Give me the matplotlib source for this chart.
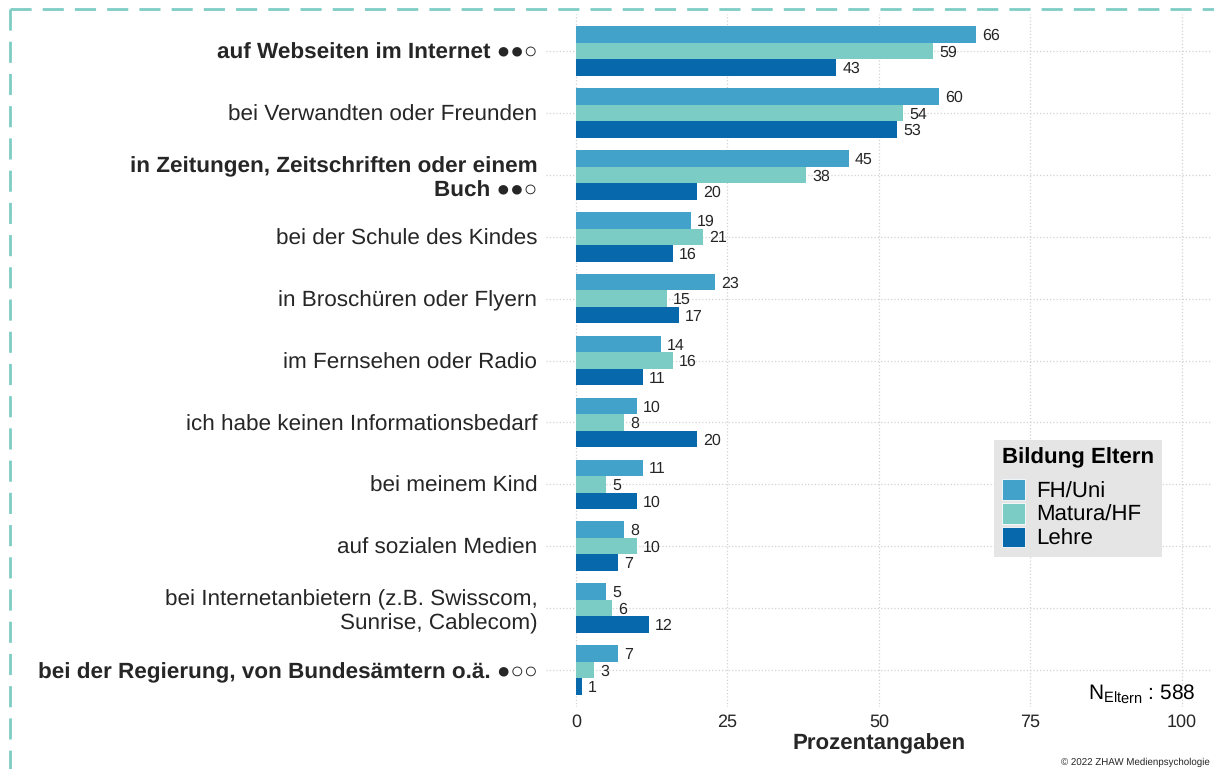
import matplotlib
matplotlib.use("Agg")
import matplotlib.pyplot as plt
from matplotlib.patches import Patch
from matplotlib.lines import Line2D
import numpy as np

plt.rcParams['font.family'] = ['Liberation Sans', 'DejaVu Sans']
plt.rcParams['mathtext.fontset'] = 'custom'
plt.rcParams['mathtext.rm'] = 'Liberation Sans'
plt.rcParams['text.hinting'] = 'no_hinting'

# Kategorien (von oben nach unten)
kategorien = [
    "auf Webseiten im Internet ●●○",
    "bei Verwandten oder Freunden",
    "in Zeitungen, Zeitschriften oder einem\nBuch ●●○",
    "bei der Schule des Kindes",
    "in Broschüren oder Flyern",
    "im Fernsehen oder Radio",
    "ich habe keinen Informationsbedarf",
    "bei meinem Kind",
    "auf sozialen Medien",
    "bei Internetanbietern (z.B. Swisscom,\nSunrise, Cablecom)",
    "bei der Regierung, von Bundesämtern o.ä. ●○○",
]
fett = [True, False, True, False, False, False, False, False, False, False, True]

gruppen = ["FH/Uni", "Matura/HF", "Lehre"]
fh_uni = [66, 60, 45, 19, 23, 14, 10, 11, 8, 5, 7]
matura_hf = [59, 54, 38, 21, 15, 16, 8, 5, 10, 6, 3]
lehre = [43, 53, 20, 16, 17, 11, 20, 10, 7, 12, 1]
farben = ["#43A2CA", "#7BCCC4", "#0868AC"]

x_ticks = [0, 25, 50, 75, 100]
n_eltern = 588

textfarbe = "#262626"

fig = plt.figure(figsize=(12.14, 7.69), dpi=100)
ax = fig.add_axes([0.4495, 0.0806, 0.5489, 0.9012])

y = np.arange(len(kategorien))
hoehe = 0.8 / 3
werte = [fh_uni, matura_hf, lehre]
for k, (serie, farbe) in enumerate(zip(werte, farben)):
    pos = y + (k - 1) * hoehe
    ax.barh(pos, serie, height=hoehe, color=farbe, linewidth=0, zorder=2)
    for p, v in zip(pos, serie):
        ax.text(v + 1.0, p + 0.025, str(v), va="center", ha="left",
                fontsize=11.5, color=textfarbe, zorder=3)

ax.set_xlim(-5, 105)
ax.set_ylim(len(kategorien) - 1 + 0.6, -0.6)

ax.set_xticks(x_ticks)
ax.set_xticklabels([str(t) for t in x_ticks])
ax.set_yticks(y)
ax.set_yticklabels(kategorien)
for lbl, b in zip(ax.get_yticklabels(), fett):
    lbl.set_fontweight("bold" if b else "normal")
    lbl.set_fontsize(16.2)
    lbl.set_color(textfarbe)

ax.tick_params(axis="x", length=0, pad=5, labelsize=13, labelcolor=textfarbe)
ax.tick_params(axis="y", length=0, pad=6)

ax.grid(True, which="major", linestyle=":", color="#D2D2D2", linewidth=0.9, zorder=0)
ax.set_axisbelow(True)
for s in ax.spines.values():
    s.set_visible(False)

ax.set_xlabel("Prozentangaben", fontsize=16, fontweight="bold", color=textfarbe, labelpad=2)

# Stichprobengrösse
ax.text(102.2, 10.38, r"N$_{\mathrm{Eltern}}$ : " + str(n_eltern), ha="right", va="center",
        fontsize=15, color="black")

# Legende
handles = [Patch(facecolor=f, edgecolor="white", linewidth=0.6) for f in farben]
leg = ax.legend(handles, gruppen, title="Bildung Eltern", loc="upper left",
                bbox_to_anchor=(994 / 1214, 1 - 440 / 769), bbox_transform=fig.transFigure,
                fontsize=16, title_fontproperties={"weight": "bold", "size": 16},
                frameon=True, facecolor="#E5E5E5", edgecolor="none", framealpha=1,
                fancybox=False, handlelength=1.05, handleheight=1.05, labelspacing=0.05,
                handletextpad=0.5, borderpad=0.35, borderaxespad=0)
leg._legend_box.align = "left"
leg._legend_box.sep = 8

# Copyright
fig.text(1210 / 1214, 1 - 762 / 769, "© 2022 ZHAW Medienpsychologie", ha="right",
         va="center", fontsize=7, color=textfarbe)

# gestrichelter Rahmen
rahmen = "#7ECDC4"
lw = 2.0
fig.add_artist(Line2D([10 / 1214, 1.0], [1 - 9 / 769, 1 - 9 / 769], transform=fig.transFigure,
                      color=rahmen, linewidth=lw, linestyle=(0, (7.6, 4.0))))
fig.add_artist(Line2D([10 / 1214, 10 / 1214], [1 - 9 / 769, 0.0], transform=fig.transFigure,
                      color=rahmen, linewidth=lw, linestyle=(0, (7.6, 4.0))))

fig.savefig("out.png", dpi=100)
